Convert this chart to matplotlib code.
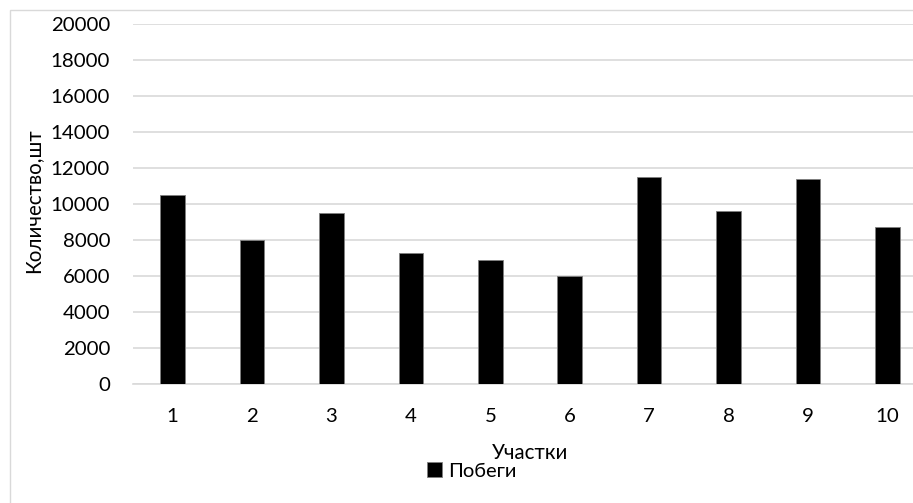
import matplotlib.pyplot as plt
from matplotlib.patches import Rectangle

plt.rcParams['font.family'] = ['Lato', 'Open Sans', 'DejaVu Sans']

# Number of shoots per plot
plots = ['1', '2', '3', '4', '5', '6', '7', '8', '9', '10']
shoots = [10500, 8000, 9500, 7300, 6900, 6000, 11500, 9600, 11400, 8700]

W, H = 913, 503
fig = plt.figure(figsize=(W / 100, H / 100), dpi=100)

# chart frame (right and bottom run past the image edge)
fig.patches.append(Rectangle((10 / W, -0.1), 1.2, 1 - 10 / H + 0.1,
                             transform=fig.transFigure, fill=False,
                             edgecolor='#d9d9d9', linewidth=1))

ax = fig.add_axes([133 / W, 1 - 384 / H, 794 / W, 360 / H])
x = range(1, len(plots) + 1)
ax.bar(x, shoots, width=0.31, color='black', edgecolor='#7f7f7f',
       linewidth=0.6, label='Побеги', zorder=3)

ax.set_xlim(0.5, len(plots) + 0.5)
ax.set_ylim(0, 20000)
ax.set_yticks(range(0, 20001, 2000))
ax.set_xticks(list(x))
ax.set_xticklabels(plots)
ax.yaxis.grid(True, color='#d9d9d9', linewidth=1.2)
ax.set_axisbelow(True)
for s in ['top', 'right', 'left']:
    ax.spines[s].set_visible(False)
ax.spines['bottom'].set_color('#d9d9d9')
ax.spines['bottom'].set_linewidth(1.2)
ax.tick_params(length=0, labelsize=14.7, colors='black')
ax.tick_params(axis='y', pad=16.5)
ax.tick_params(axis='x', pad=17)

fig.text(33 / W, 1 - 201 / H, 'Количество,шт', rotation=90,
         ha='center', va='center', fontsize=14.8)
fig.text(530 / W, 1 - 453 / H, 'Участки', ha='center', va='center', fontsize=14.8)

fig.legend(loc='center', bbox_to_anchor=(472 / W, 1 - 471 / H), frameon=False,
           fontsize=14.5, handlelength=0.75, handleheight=0.75, handletextpad=0.3)

fig.savefig('out.png', dpi=100)
